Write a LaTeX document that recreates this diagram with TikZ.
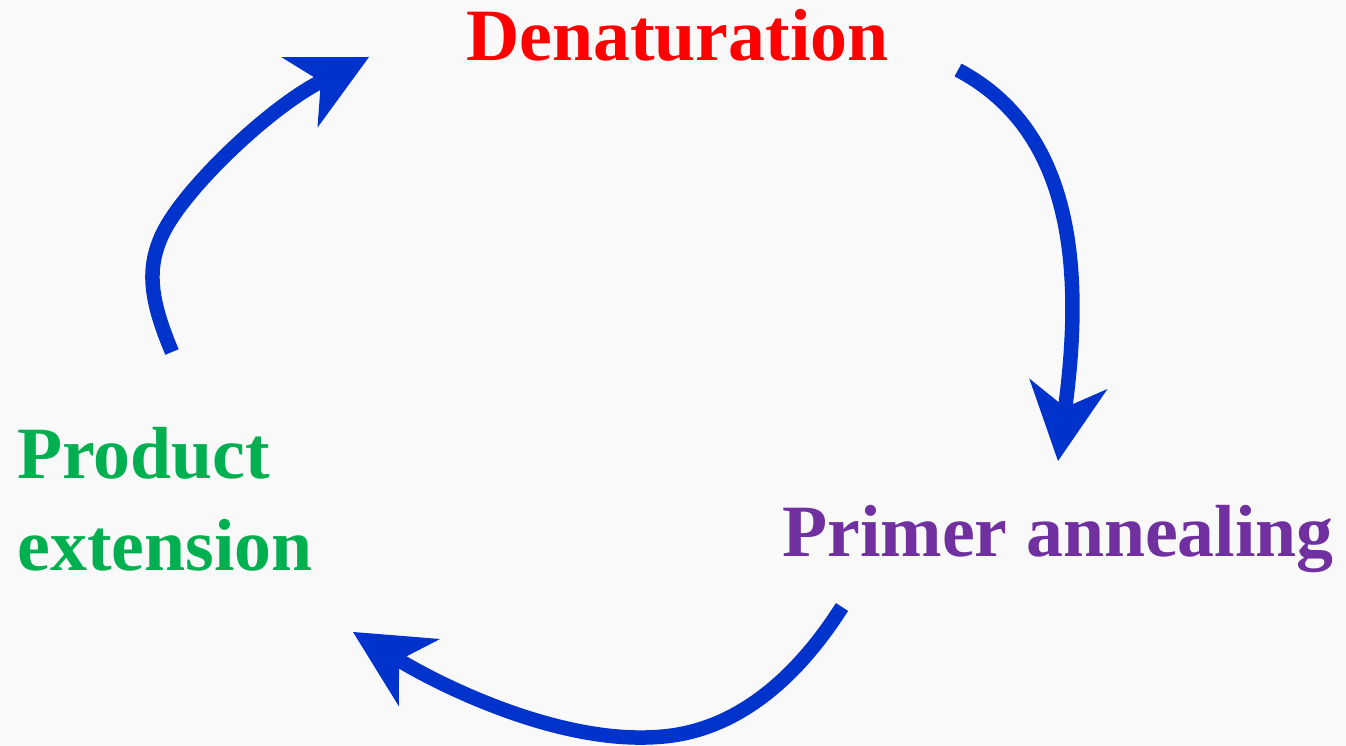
\documentclass[tikz,border=0pt]{standalone}
\usepackage{fontspec}
\setmainfont{Liberation Serif}
\usetikzlibrary{arrows.meta,positioning}
\definecolor{denred}{HTML}{FF0000}
\definecolor{annpurple}{HTML}{7030A0}
\definecolor{extgreen}{HTML}{00B050}
\definecolor{cycblue}{HTML}{0033CC}
\definecolor{slide}{HTML}{F9F9F9}
\tikzset{
    stage/.style = {inner sep=0pt,
        font=\fontsize{42}{51.8}\selectfont\bfseries},
    port/.style = {coordinate},
    cycarrow/.style = {draw=cycblue, line width=0.29cm,
        -{Stealth[length=1.56cm, width=1.58cm, inset=0.48cm, line width=0pt]}}
}

\begin{document}
\begin{tikzpicture}[x=0.02cm, y=-0.02cm]
        \fill [slide] (0,0) rectangle (1346,746);
        \useasboundingbox (0,0) rectangle (1346,746);
        \node [stage, text=denred, anchor=base west, name=denat] at (466,61) {Denaturation};
        \node [stage, text=annpurple, anchor=base west, name=anneal] at (782,556) {Primer annealing};
        \node [stage, text=extgreen, anchor=base west, align=left, name=extend] at (17,570) {Product\\extension};
        % ends of the three arrows
        \node [port, name=extout] at (172,352) {};
        \node [port, name=denin] at (369,57) {};
        \node [port, name=denout] at (958,70) {};
        \node [port, name=annin] at (1058,461) {};
        \node [port, name=annout] at (842,607) {};
        \node [port, name=extin] at (353,632) {};
        \draw [cycarrow] (extout) .. controls (150,300) and (146,268) .. (163,233)
            .. controls (185,188) and (269,108) .. (denin);
        \draw [cycarrow] (denout) .. controls (1062,125) and (1087,245) .. (annin);
        \draw [cycarrow] (annout) .. controls (805,665) and (745,732) .. (657,737)
            .. controls (557,744) and (438,684) .. (extin);
    \end{tikzpicture}
\end{document}
